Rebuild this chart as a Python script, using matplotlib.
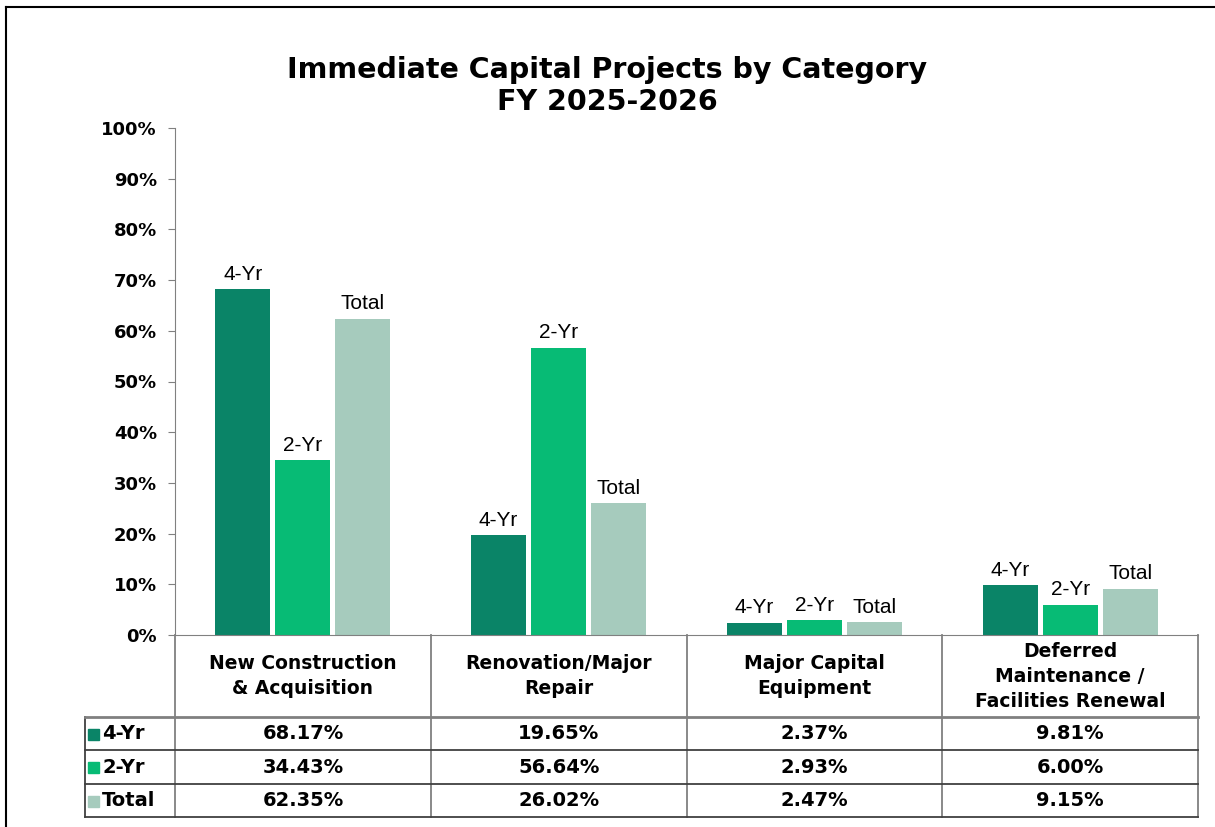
import numpy as np
import matplotlib.pyplot as plt
from matplotlib.patches import Rectangle
from matplotlib.lines import Line2D

# Data
categories = ["New Construction\n& Acquisition", "Renovation/Major\nRepair",
              "Major Capital\nEquipment", "Deferred\nMaintenance /\nFacilities Renewal"]
series = ["4-Yr", "2-Yr", "Total"]
four_yr = [68.17, 19.65, 2.37, 9.81]
two_yr = [34.43, 56.64, 2.93, 6.00]
total = [62.35, 26.02, 2.47, 9.15]
colors = ["#0A8467", "#07BB75", "#A6CBBD"]

values = [four_yr, two_yr, total]

W, H = 1215, 827
fig = plt.figure(figsize=(W / 100, H / 100), dpi=100)

def fx(px):
    return px / W

def fy(py):
    return 1 - py / H

# frame lines around the picture
fig.add_artist(Line2D([fx(6), fx(6)], [0, fy(7)], color="black", lw=1.5))
fig.add_artist(Line2D([fx(6), 1], [fy(7), fy(7)], color="black", lw=1.5))

# Bar axes
ax = fig.add_axes([fx(175), fy(635), fx(1198) - fx(175), fy(128) - fy(635)])
x = np.arange(len(categories)) + 0.5
bw = 0.215
offs = [-0.235, 0, 0.235]
for vals, name, col, off in zip(values, series, colors, offs):
    bars = ax.bar(x + off, vals, width=bw, color=col)
    for b, v in zip(bars, vals):
        ax.annotate(name, (b.get_x() + b.get_width() / 2, v), xytext=(0, 4),
                    textcoords="offset points", ha="center", va="bottom",
                    fontsize=15, family="Liberation Sans")

ax.set_xlim(0, 4)
ax.set_ylim(0, 100)
ax.set_yticks(np.arange(0, 101, 10))
ax.set_yticklabels([f"{v}%" for v in range(0, 101, 10)], fontsize=13, fontweight="bold")
ax.set_xticks([])
for s in ["top", "right"]:
    ax.spines[s].set_visible(False)
ax.spines["left"].set_color("#808080")
ax.spines["bottom"].set_color("#808080")
ax.tick_params(axis="y", direction="out", length=5, color="#808080", pad=8)

fig.text(0.5, fy(86), "Immediate Capital Projects by Category\nFY 2025-2026",
         ha="center", va="center", fontsize=20.5, fontweight="bold", linespacing=1.2)

# Table below the chart
tx0 = 85
unit = (1198 - 175) / 4
tab = fig.add_axes([fx(tx0), fy(817), fx(1198) - fx(tx0), fy(635) - fy(817)])
tab.set_xlim(-(175 - tx0) / unit, 4)
tab.set_ylim(817, 635)
tab.axis("off")

gray = "#808080"
dark = "#404040"
# vertical lines in header
for i in range(5):
    tab.plot([i, i], [635, 817], color=gray, lw=1.3, clip_on=False)
left = -(175 - tx0) / unit
tab.plot([left, left], [717, 817], color=dark, lw=1.3, clip_on=False)
tab.plot([left, 4], [717, 717], color=gray, lw=2, clip_on=False)
for yy in [750, 784]:
    tab.plot([left, 4], [yy, yy], color=dark, lw=1.3, clip_on=False)
tab.plot([left, 4], [817, 817], color=dark, lw=1.3, clip_on=False)

for i, c in enumerate(categories):
    tab.text(i + 0.5, 676, c, ha="center", va="center", fontsize=13.5,
             fontweight="bold", linespacing=1.4)

row_y = [733.5, 767, 800.5]
for vals, name, col, ry in zip(values, series, colors, row_y):
    tab.add_patch(Rectangle((left + 3 / unit, ry - 5), 11 / unit, 11, color=col, clip_on=False))
    tab.text(left + 17 / unit, ry, name, ha="left", va="center", fontsize=14, fontweight="bold")
    for i, v in enumerate(vals):
        tab.text(i + 0.5, ry, f"{v:.2f}%", ha="center", va="center", fontsize=14, fontweight="bold")

fig.savefig("out.png", dpi=100)
